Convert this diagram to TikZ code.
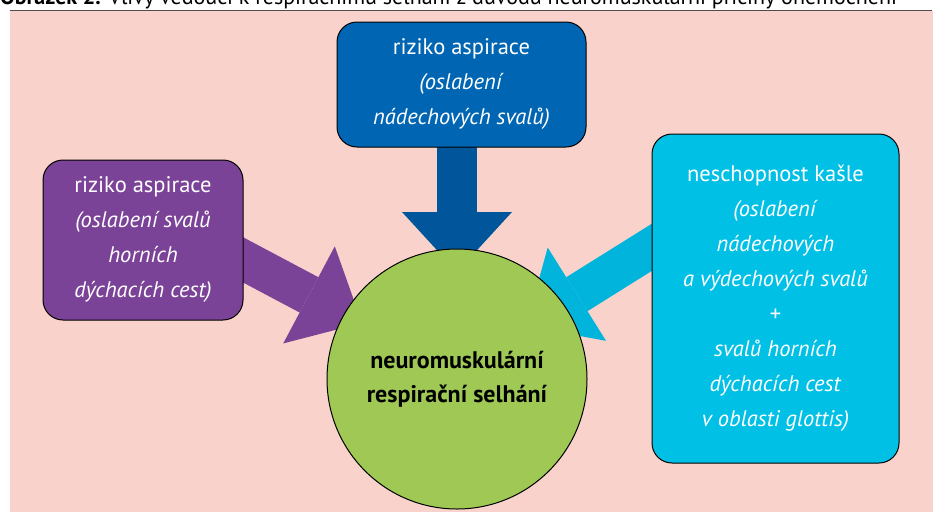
\documentclass[tikz,border=0pt]{standalone}
\usepackage{fontspec}
\setmainfont{PT Sans}
\usepackage{tikz}
\usetikzlibrary{calc}
\usetikzlibrary{arrows.meta}

\definecolor{pozadi}{HTML}{F9D3CB}
\definecolor{linka}{HTML}{4D4D4D}
\definecolor{zelena}{HTML}{9FC954}
\definecolor{modra}{HTML}{0066B3}
\definecolor{modrasipka}{HTML}{00559B}
\definecolor{fialova}{HTML}{7B4397}
\definecolor{tyrkys}{HTML}{00C0E6}
\definecolor{tyrkyssipka}{HTML}{00B4DC}

\pgfdeclarelayer{back}
\pgfdeclarelayer{sipky}
\pgfsetlayers{back,sipky,main}

\begin{document}
\begin{tikzpicture}[x=1pt,y=-1pt]
		\tikzset{box/.style={draw=black,line width=1pt,rounded corners=20pt,text=white,align=center,inner sep=0pt,font=\fontsize{22.5}{35}\selectfont}}
		\tikzset{fat/.style={line width=40pt,-{Triangle[width=110pt,length=60pt,line width=0pt]}}}
		\useasboundingbox (0,0) rectangle (935,512);
		\clip (0,0) rectangle (935,512);
		
		\begin{pgfonlayer}{back}
		\fill[pozadi] (10,11) rectangle (933,512);
		\end{pgfonlayer}
		\draw[linka,line width=1.5pt] (10,10.5) -- (932,10.5);
		\node (0) at (0,4.5) [anchor=base west,inner sep=0pt,font=\fontsize{22}{22}\selectfont] {\textbf{Obrázek 2.} Vlivy vedoucí k respiračnímu selhání z důvodu neuromuskulární příčiny onemocnění};
		
		\node (1) at (457,379) [draw,circle,line width=1pt,fill=zelena,minimum size=260pt,align=center,font=\fontsize{24}{34}\selectfont\bfseries] {neuromuskulární\\respirační selhání};
		\node (2) at (461.5,84.5) [box,fill=modra,minimum width=249pt,minimum height=125pt] {riziko aspirace\\\textit{(oslabení}\\\textit{nádechových svalů)}};
		\node (3) at (143,240) [box,fill=fialova,minimum width=200pt,minimum height=160pt] {riziko aspirace\\\textit{(oslabení svalů}\\\textit{horních}\\\textit{dýchacích cest)}};
		\node (4) at (775.5,298.5) [box,fill=tyrkys,minimum width=247pt,minimum height=329pt] {neschopnost kašle\\\textit{(oslabení}\\\textit{nádechových}\\\textit{a výdechových svalů}\\+\\\textit{svalů horních}\\\textit{dýchacích cest}\\\textit{v oblasti glottis)}};
		
		%Sipky
		\begin{pgfonlayer}{sipky}
		\coordinate (t2) at (457,272);
		\coordinate (t3) at (362,323);
		\coordinate (t4) at (526,326);
		\draw[fat,modrasipka] ([xshift=-4.5pt]2.center) -- (t2);
		\draw[fat,fialova] ([shift={(57,-3)}]3.center) -- (t3);
		\draw[fat,tyrkyssipka] ([shift={(48,-81)}]4.west) -- (t4);
		\end{pgfonlayer}
\end{tikzpicture}
\end{document}
